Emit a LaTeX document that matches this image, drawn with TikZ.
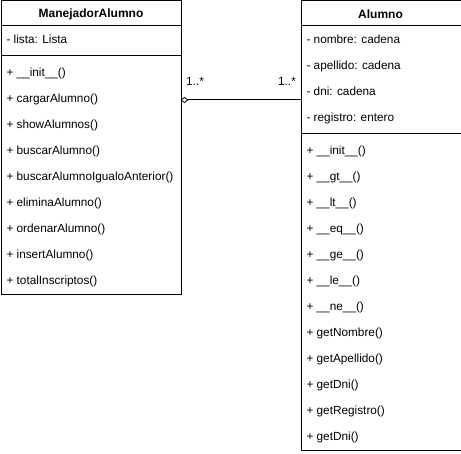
\documentclass[tikz,border=0pt]{standalone}
\usepackage{fontspec}
\setmainfont{Liberation Sans}
\usetikzlibrary{arrows.meta}

\begin{document}
\begin{tikzpicture}[x=1pt,y=-1pt,line width=1pt,
    classbox/.style={draw,rectangle,anchor=north west,inner sep=0pt},
    title/.style={font=\fontsize{12}{14}\selectfont\bfseries},
    row/.style={anchor=west,inner sep=0pt,text height=9pt,text depth=2.5pt,
        font=\fontsize{11.8}{14}\selectfont},
    mult/.style={inner sep=0pt,text height=9pt,text depth=2.5pt,
        font=\fontsize{11.8}{14}\selectfont}]

    \useasboundingbox (0,0) rectangle (461,454);

    % ManejadorAlumno
    \node[classbox, minimum width=180pt, minimum height=294pt] (manejador) at (0.5,0.5) {};
    \node[title] (manejadorTitle) at (91,14) {ManejadorAlumno};
    \draw (0.5,26) -- (180.5,26);
    \draw (0.5,56) -- (180.5,56);
    \node[row] (lista) at (6,40) {- lista: Lista};
    \foreach \t [count=\i] in {+ \_\_init\_\_(), + cargarAlumno(), + showAlumnos(),
        + buscarAlumno(), + buscarAlumnoIgualoAnterior(), + eliminaAlumno(),
        + ordenarAlumno(), + insertAlumno(), + totalInscriptos()}
        \node[row] (mm\i) at (6,47+26*\i) {\t};

    % Alumno
    \node[classbox, minimum width=160pt, minimum height=450pt] (alumno) at (300.5,0.5) {};
    \node[title] (alumnoTitle) at (380.5,14) {Alumno};
    \draw (300.5,26) -- (460.5,26);
    \draw (300.5,134) -- (460.5,134);
    \foreach \t [count=\i] in {- nombre: cadena, - apellido: cadena, - dni: cadena,
        - registro: entero}
        \node[row] (aa\i) at (306,14+26*\i) {\t};
    \foreach \t [count=\i] in {+ \_\_init\_\_(), + \_\_gt\_\_(), + \_\_lt\_\_(),
        + \_\_eq\_\_(), + \_\_ge\_\_(), + \_\_le\_\_(), + \_\_ne\_\_(), + getNombre(),
        + getApellido(), + getDni(), + getRegistro(), + getDni()}
        \node[row] (am\i) at (306,125+26*\i) {\t};

    % agregacion
    \coordinate (aggL) at (180.5,100);
    \coordinate (aggR) at (300.5,100);
    \draw[{Diamond[open,length=8pt,width=6pt,line width=0.8pt]}-] (aggL) -- (aggR);
    \node[mult] (multL) at (195,82) {1..*};
    \node[mult] (multR) at (287,82) {1..*};
\end{tikzpicture}
\end{document}
